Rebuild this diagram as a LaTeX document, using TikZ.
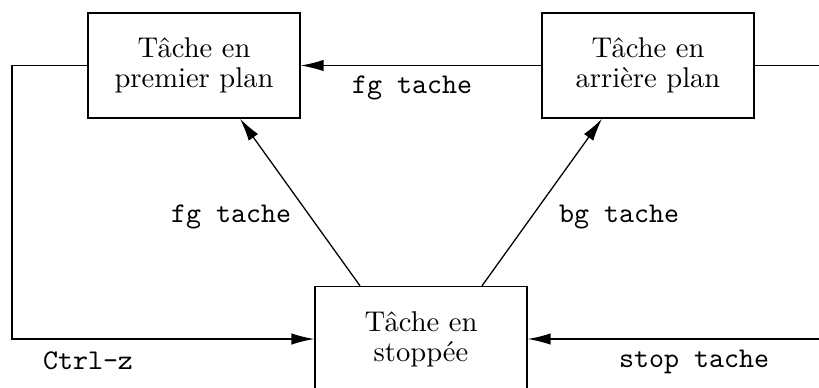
\documentclass[tikz,border=0pt]{standalone}
\usetikzlibrary{arrows.meta,calc}
\begin{document}
\begin{tikzpicture}[x=0.35pt,y=-0.35pt,
  state/.style={draw, line width=0.5pt, minimum width=74.2pt, minimum height=36.75pt, align=center, inner sep=0pt, font=\fontsize{10}{10.5}\selectfont},
  conn/.style={line width=0.45pt, -{Latex[length=8pt,width=4pt]}},
  lbl/.style={font=\ttfamily, inner sep=0pt}]
\useasboundingbox (0,0) rectangle (819,387);
\node[state] (fg) at (194,65.5) {Tâche en\\premier plan};
\node[state] (bg) at (648,65.5) {Tâche en\\arrière plan};
\node[state] (st) at (421,339) {Tâche en\\stoppée};
\coordinate (L) at (12,339);
\coordinate (R) at (823,339);
\draw[conn] (bg.west) -- (fg.east);
\draw[conn] (fg.west) -| (L) |- (st.west);
\draw[conn] (bg.east) -| (R) |- (st.east);
\draw[conn] ($(st.north)+(-61,0)$) -- ($(fg.south)+(46,0)$);
\draw[conn] ($(st.north)+(61,0)$) -- ($(bg.south)+(-46,0)$);
\node[lbl] (l1) at (412,88) {fg tache};
\node[lbl] (l2) at (231,217) {fg tache};
\node[lbl] (l3) at (619,217) {bg tache};
\node[lbl] (l4) at (88,361) {Ctrl-z};
\node[lbl] (l5) at (694,362) {stop tache};
\end{tikzpicture}
\end{document}
